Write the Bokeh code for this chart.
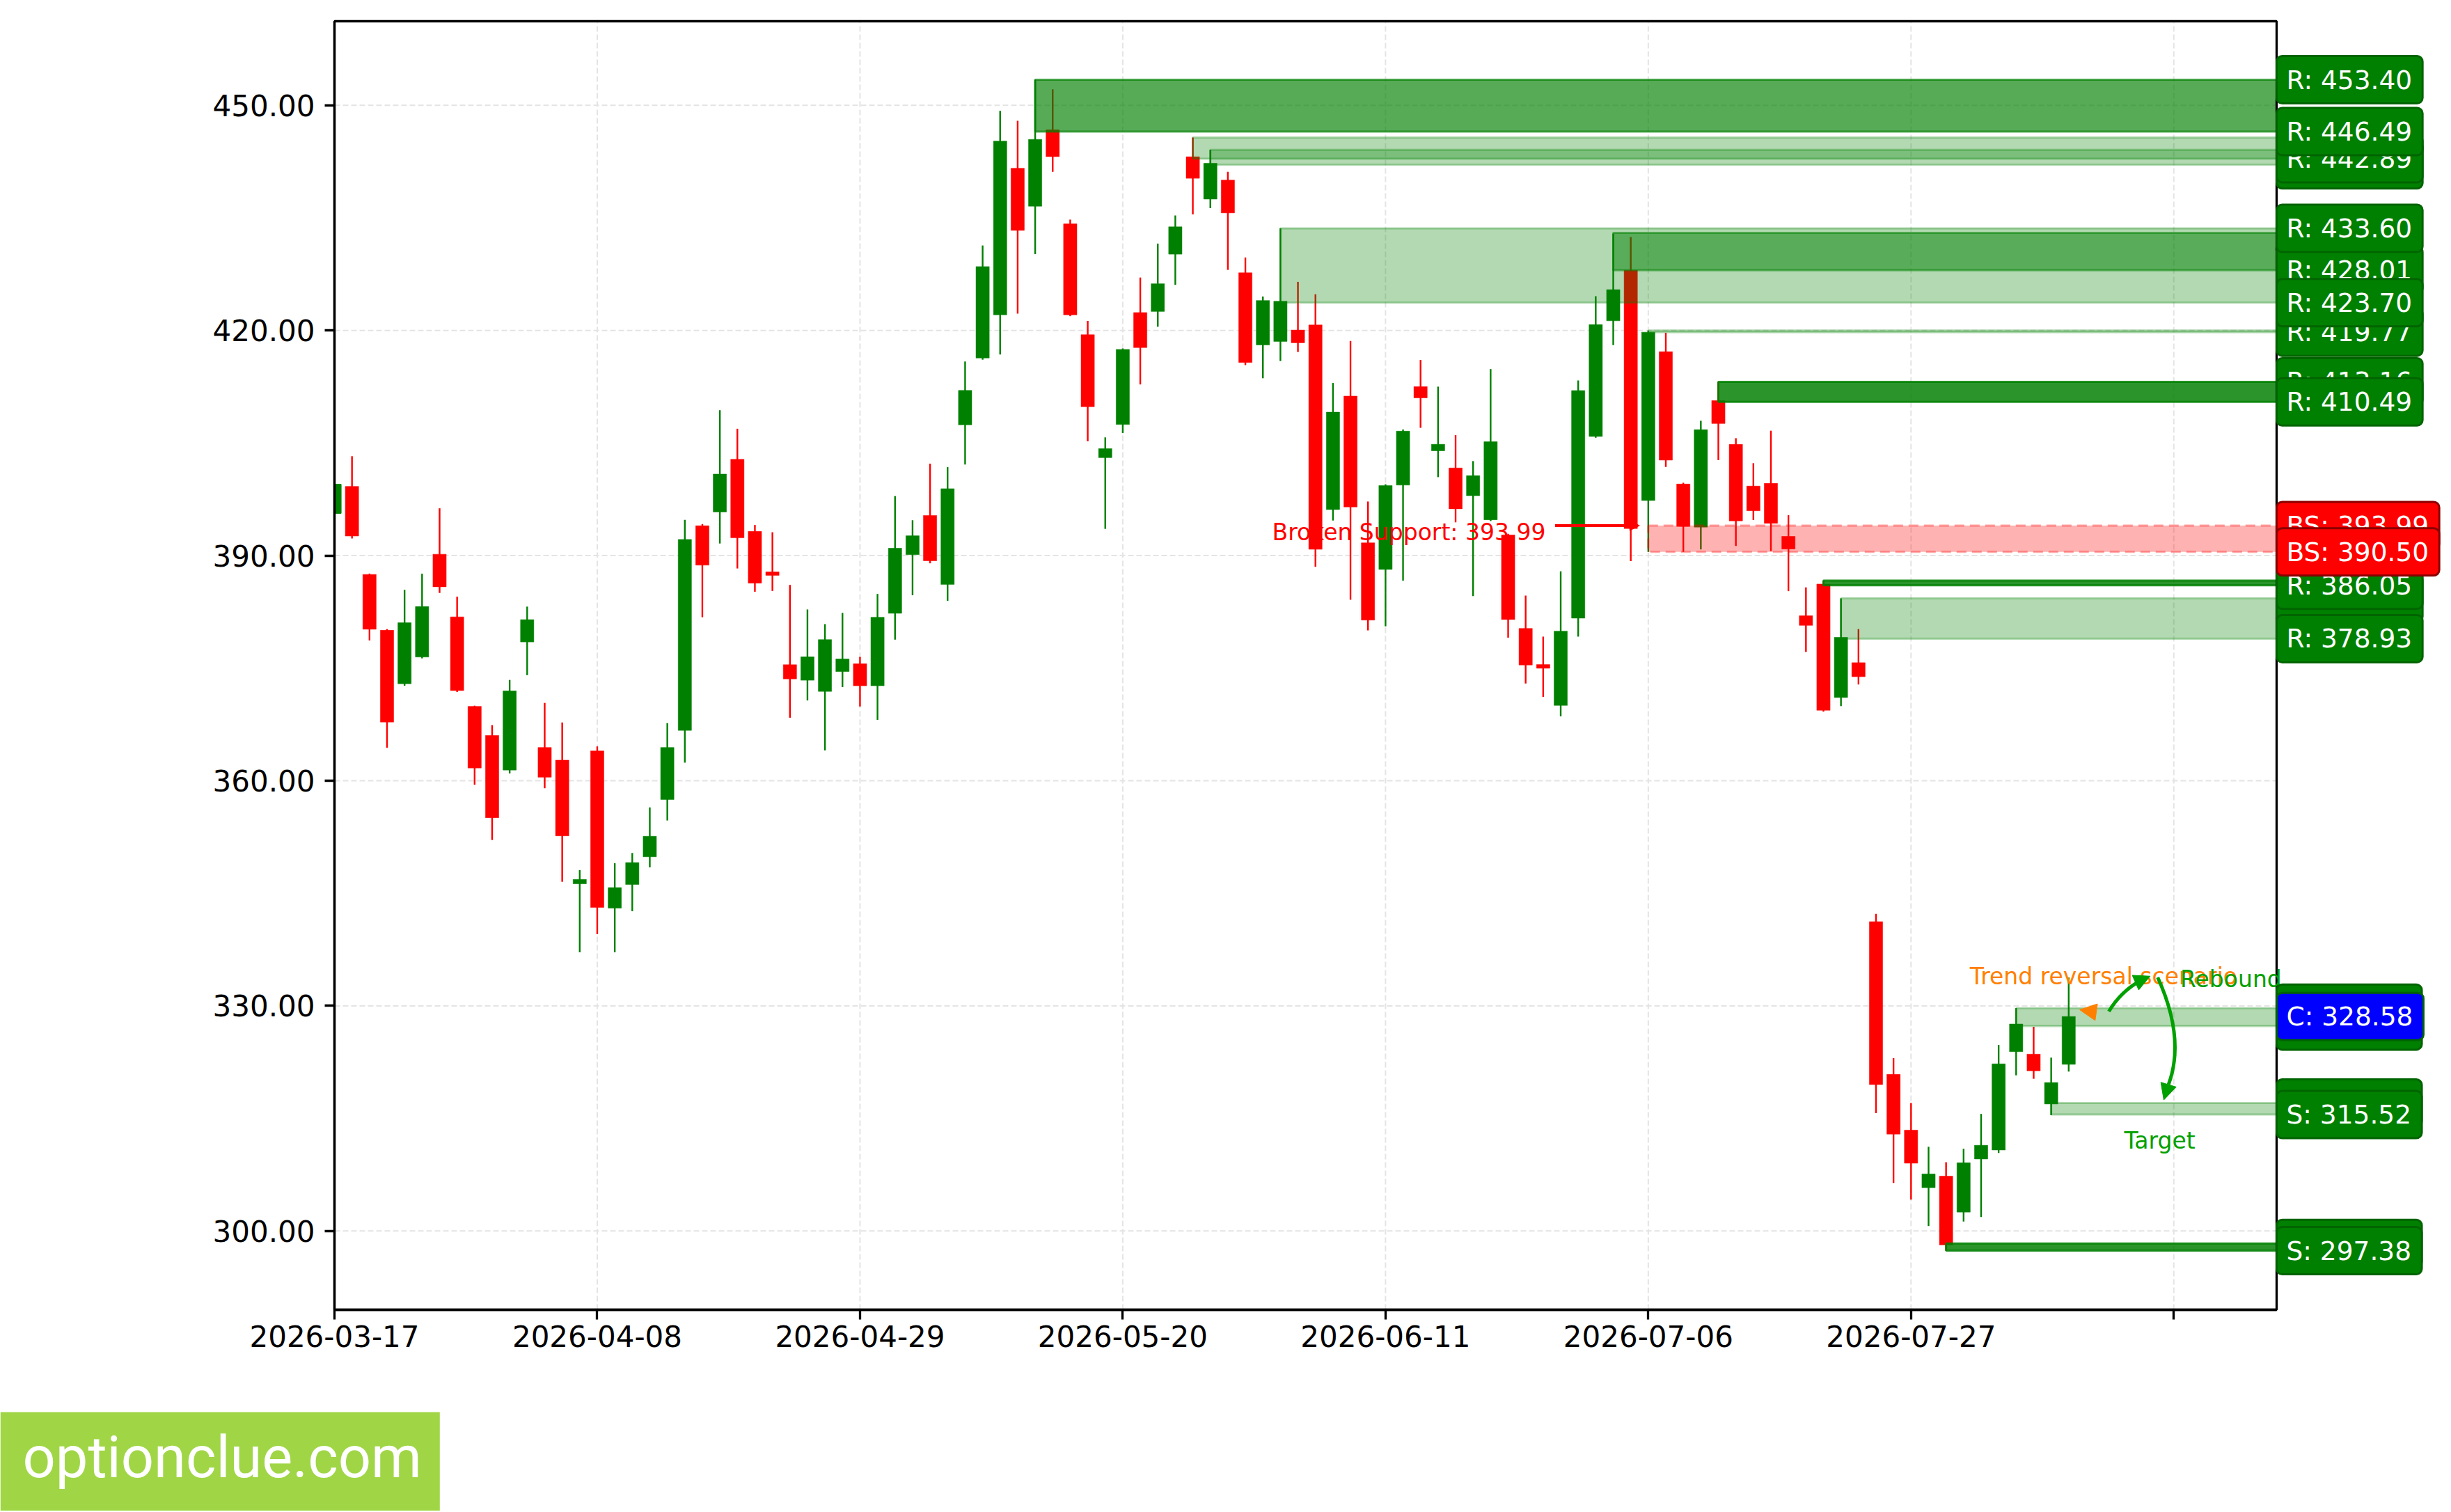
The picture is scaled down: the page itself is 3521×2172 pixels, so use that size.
from bokeh.plotting import figure
from bokeh.models import (Range1d, FixedTicker, NumeralTickFormatter, Label, Arrow, NormalHead,
                          ColumnDataSource, LinearAxis)
from bokeh.core.properties import value
from bokeh.embed import file_html
from bokeh.resources import INLINE

# ---------------- data ----------------
OPEN = [395.62, 399.22, 387.49, 380.05, 372.92, 376.48, 390.18, 381.83, 369.91, 366.03,
        361.42, 378.49, 364.43, 362.74, 346.26, 363.97, 343.02, 346.17, 349.86, 357.49,
        366.71, 393.97, 395.81, 402.82, 393.22, 387.82, 375.46, 373.39, 371.90, 374.54,
        375.58, 372.65, 382.30, 390.12, 395.35, 386.15, 407.42, 416.32, 422.07, 441.61,
        436.55, 446.72, 434.20, 419.43, 403.05, 407.46, 422.38, 422.53, 430.16, 443.14,
        437.50, 440.03, 427.68, 418.06, 418.54, 420.05, 420.73, 396.13, 411.25, 391.70,
        388.15, 399.39, 412.51, 403.96, 401.67, 397.98, 394.77, 392.74, 380.29, 375.48,
        370.03, 381.66, 405.87, 421.28, 428.01, 397.34, 417.17, 399.53, 393.79, 410.65,
        404.82, 399.26, 399.62, 392.56, 381.98, 386.21, 371.08, 375.73, 341.22, 320.87,
        313.44, 305.77, 307.30, 302.52, 309.59, 310.79, 323.89, 323.56, 316.92, 322.20]
HIGH = [400.50, 403.24, 387.60, 380.20, 385.43, 387.58, 396.30, 384.52, 370.00, 367.40,
        373.43, 383.20, 370.37, 367.76, 348.08, 364.57, 349.00, 350.37, 356.44, 367.67,
        394.75, 394.20, 409.37, 406.90, 394.08, 393.11, 386.09, 382.82, 380.86, 382.36,
        376.50, 384.89, 397.93, 394.71, 402.24, 401.78, 415.86, 431.32, 449.25, 447.93,
        453.40, 452.13, 434.77, 421.27, 405.75, 417.60, 427.05, 431.57, 435.32, 445.72,
        444.07, 441.15, 429.72, 424.52, 433.60, 426.47, 424.81, 413.00, 418.59, 397.20,
        399.50, 406.80, 416.06, 412.51, 406.05, 402.59, 414.85, 392.90, 384.67, 379.20,
        387.90, 413.34, 424.56, 432.90, 432.45, 420.00, 419.68, 399.70, 407.96, 413.16,
        405.64, 402.31, 406.64, 395.38, 385.76, 386.67, 384.30, 380.20, 342.25, 323.03,
        317.06, 311.22, 309.16, 310.95, 315.60, 324.79, 329.70, 327.21, 323.10, 333.78]
LOW = [395.20, 392.28, 378.68, 364.38, 372.65, 376.30, 385.02, 371.83, 359.45, 352.10,
       360.96, 374.06, 359.00, 346.53, 337.13, 339.55, 337.13, 342.61, 348.45, 354.70,
       362.42, 381.78, 391.61, 388.28, 385.17, 385.29, 368.39, 370.69, 364.03, 372.47,
       369.89, 368.11, 378.80, 384.71, 388.97, 383.97, 402.13, 416.10, 416.78, 422.24,
       430.17, 441.15, 421.90, 405.23, 393.56, 406.34, 412.80, 420.49, 426.08, 435.46,
       436.29, 428.07, 415.38, 413.63, 415.92, 417.13, 388.49, 394.67, 384.12, 380.03,
       380.57, 386.65, 407.02, 400.45, 394.43, 384.60, 394.60, 379.06, 372.95, 371.17,
       368.57, 379.20, 405.70, 418.04, 389.27, 390.50, 401.81, 390.50, 390.82, 402.72,
       391.28, 394.74, 390.59, 385.26, 377.15, 369.20, 369.94, 372.82, 315.70, 306.40,
       304.18, 300.66, 297.38, 301.26, 301.86, 310.39, 320.74, 320.28, 315.43, 321.24]
CLOSE = [399.50, 392.60, 380.18, 367.81, 381.05, 383.20, 385.84, 372.01, 361.69, 355.07,
         371.96, 381.46, 360.46, 352.65, 346.85, 343.11, 345.76, 349.09, 352.60, 364.43,
         392.15, 388.72, 400.86, 392.36, 386.32, 387.36, 373.56, 376.50, 378.80, 376.21,
         372.65, 381.78, 390.98, 392.64, 389.31, 398.91, 412.01, 428.51, 445.23, 433.33,
         445.46, 443.16, 422.07, 409.83, 404.25, 417.47, 417.71, 426.22, 433.81, 440.27,
         442.27, 435.66, 415.72, 423.99, 423.89, 418.35, 390.83, 409.11, 396.47, 381.40,
         399.34, 406.58, 411.01, 404.83, 396.23, 400.65, 405.17, 381.48, 375.41, 374.98,
         379.93, 411.98, 420.78, 425.43, 393.60, 419.77, 402.72, 393.88, 406.78, 407.60,
         394.61, 395.97, 394.29, 390.87, 380.70, 369.38, 379.11, 373.86, 319.51, 312.91,
         309.03, 307.60, 298.14, 309.09, 311.42, 322.27, 327.58, 321.34, 319.78, 328.58]

TICK_IDX = [0, 15, 30, 45, 60, 75, 90, 105]
TICK_LABELS = ["2026-03-17", "2026-04-08", "2026-04-29", "2026-05-20",
               "2026-06-11", "2026-07-06", "2026-07-27", ""]
Y_TICKS = [300, 330, 360, 390, 420, 450]

# resistance / support zones: start candle, low, high, opacity
ZONE_START = [40, 49, 50, 54, 73, 75, 79, 85, 86, 92, 96, 98]
ZONE_LOW = [446.49, 442.89, 442.07, 423.70, 428.01, 419.77, 410.49, 386.05, 378.93, 297.38, 327.31, 315.52]
ZONE_HIGH = [453.40, 445.72, 444.07, 433.60, 433.00, 420.00, 413.16, 386.67, 384.30, 298.33, 329.70, 317.05]
ZONE_ALPHA = [0.66, 0.30, 0.30, 0.30, 0.50, 0.30, 0.83, 0.83, 0.30, 0.83, 0.30, 0.30]

BS_START = [75]
BS_LOW = [390.50]
BS_HIGH = [393.99]

# right-hand level tags (in drawing order)
LEVEL_VALUES = [453.40, 442.07, 442.89, 446.49, 419.77, 428.01, 423.70, 433.60, 413.16, 410.49,
                384.30, 386.05, 378.93, 393.99, 390.50,
                298.33, 297.38, 317.05, 315.52, 329.70, 327.31, 328.58]
LEVEL_TEXTS = ["R: 453.40", "R: 442.07", "R: 442.89", "R: 446.49", "R: 419.77", "R: 428.01",
               "R: 423.70", "R: 433.60", "R: 413.16", "R: 410.49", "R: 384.30", "R: 386.05",
               "R: 378.93", "BS: 393.99", "BS: 390.50",
               "S: 298.33", "S: 297.38", "S: 317.05", "S: 315.52", "S: 329.70", "S: 327.31",
               "C: 328.58"]
LEVEL_KIND = ["R"] * 13 + ["BS", "BS"] + ["S"] * 6 + ["C"]

BROKEN_TEXT = "Broken Support: 393.99"
BROKEN_LEVEL = 393.99

# ---------------- geometry ----------------
W, H = 3520, 2170
X0, X1 = 0.0, 110.87          # visible candle-index window of the price panel
Y0, Y1 = 289.5, 461.2         # visible price window of the price panel
BOX_L, BOX_R, BOX_T, BOX_B = 480, 3270, 30, 1881   # panel box on the canvas (px)
XS = (BOX_R - BOX_L) / (X1 - X0)
YS = (BOX_B - BOX_T) / (Y1 - Y0)
x_range = Range1d(X0 - BOX_L / XS, X1 + (W - BOX_R) / XS)
y_range = Range1d(Y0 - (H - BOX_B) / YS, Y1 + BOX_T / YS)

p = figure(width=W, height=H, output_backend="svg", toolbar_location=None,
           x_range=x_range, y_range=y_range, x_axis_location=None, y_axis_location=None,
           min_border_left=0, min_border_right=0, min_border_top=0, min_border_bottom=0)
p.background_fill_color = "white"
p.border_fill_color = "white"
p.outline_line_color = None
p.grid.visible = False

# grid lines (dashed, light) inside the panel only
GRID = dict(line_color="#e4e4e4", line_width=2, line_dash="8 4")
p.segment(x0=TICK_IDX, y0=[Y0] * len(TICK_IDX), x1=TICK_IDX, y1=[Y1] * len(TICK_IDX), **GRID)
p.segment(x0=[X0] * len(Y_TICKS), y0=Y_TICKS, x1=[X1] * len(Y_TICKS), y1=Y_TICKS, **GRID)

# candles
UP, DOWN = "#008000", "#ff0000"
idx = list(range(len(OPEN)))
cols = [UP if c >= o else DOWN for o, c in zip(OPEN, CLOSE)]
tops = [max(o, c) for o, c in zip(OPEN, CLOSE)]
bots = [min(o, c) for o, c in zip(OPEN, CLOSE)]
vis = idx[1:]
src_rest = ColumnDataSource(dict(x=vis, top=[tops[i] for i in vis], bot=[bots[i] for i in vis],
                                 color=[cols[i] for i in vis],
                                 l=[LOW[i] for i in vis], h=[HIGH[i] for i in vis]))
p.segment(x0="x", y0="l", x1="x", y1="h", color="color", line_width=2.4, source=src_rest)
p.vbar(x="x", width=0.76, top="top", bottom="bot", fill_color="color", line_color="color",
       line_width=0.5, source=src_rest)
# first candle is cut in half by the panel's left edge
p.quad(left=[X0], right=[X0 + 0.38], top=[tops[0]], bottom=[bots[0]],
       fill_color=cols[0], line_color=cols[0])

# zones
zsrc = ColumnDataSource(dict(left=ZONE_START, right=[X1] * len(ZONE_START),
                             bottom=ZONE_LOW, top=ZONE_HIGH, a=ZONE_ALPHA))
p.quad(left="left", right="right", bottom="bottom", top="top", source=zsrc,
       fill_color="#008000", fill_alpha="a", line_color="#008000", line_alpha="a", line_width=3)
p.quad(left=BS_START, right=[X1], bottom=BS_LOW, top=BS_HIGH,
       fill_color="#ff0000", fill_alpha=0.3, line_color="#ff0000", line_alpha=0.35,
       line_width=3, line_dash="14 8")

# ---------------- axes placed on the panel edges ----------------
yax = LinearAxis(fixed_location=X0, bounds=(Y0, Y1), ticker=FixedTicker(ticks=Y_TICKS),
                 formatter=NumeralTickFormatter(format="0.00"))
xax = LinearAxis(fixed_location=Y0, bounds=(X0, X1), ticker=FixedTicker(ticks=TICK_IDX),
                 major_label_overrides={t: s for t, s in zip(TICK_IDX, TICK_LABELS)})
for ax in (xax, yax):
    ax.axis_line_color = "black"
    ax.axis_line_width = 3.3
    ax.major_tick_out = 14
    ax.major_tick_in = 0
    ax.major_tick_line_width = 3.3
    ax.minor_tick_line_color = None
    ax.major_label_text_font = "DejaVu Sans"
    ax.major_label_text_font_size = "42px"
    ax.major_label_text_color = "black"
xax.major_label_standoff = 8
yax.major_label_standoff = 14
p.add_layout(yax, "left")
p.add_layout(xax, "below")

# panel frame
p.quad(left=[X0], right=[X1], bottom=[Y0], top=[Y1], fill_color=None,
       line_color="black", line_width=3.3)

# ---------------- annotations inside the plot ----------------
FONT = value("DejaVu Sans")
p.text(x=[53.53], y=[393.14], text=[BROKEN_TEXT], text_font=FONT, text_font_size="33px",
       text_color="#ff0000", text_align="left", text_baseline="alphabetic")
p.add_layout(Arrow(end=NormalHead(size=14, fill_color="#ff0000", line_color="#ff0000"),
                   x_start=69.68, y_start=BROKEN_LEVEL, x_end=74.5, y_end=BROKEN_LEVEL,
                   line_color="#ff0000", line_width=4))

ORANGE = "#ff8000"
GREEN2 = "#00a000"
p.text(x=[93.36], y=[333.95], text=["Trend reversal scenario"], text_font=FONT,
       text_font_size="33px", text_color=ORANGE, text_align="left", text_baseline="alphabetic")
p.text(x=[105.37], y=[333.52], text=["Rebound"], text_font=FONT,
       text_font_size="33px", text_color=GREEN2, text_align="left", text_baseline="alphabetic")
p.text(x=[102.17], y=[312.06], text=["Target"], text_font=FONT,
       text_font_size="33px", text_color=GREEN2, text_align="left", text_baseline="alphabetic")

p.add_layout(Arrow(end=NormalHead(size=24, fill_color=ORANGE, line_color=ORANGE),
                   x_start=100.48, y_start=329.19, x_end=99.63, y_end=329.47,
                   line_alpha=0, line_width=1))
p.quadratic(x0=[101.29], y0=[329.24], x1=[103.24], y1=[333.53], cx=[102.02], cy=[332.08],
            line_color=GREEN2, line_width=5)
p.add_layout(Arrow(end=NormalHead(size=23, fill_color=GREEN2, line_color=GREEN2),
                   x_start=103.24, y_start=333.53, x_end=103.65, y_end=333.95,
                   line_alpha=0, line_width=1))
p.quadratic(x0=[104.08], y0=[333.79], x1=[104.70], y1=[319.52], cx=[105.67], cy=[325.65],
            line_color=GREEN2, line_width=5)
p.add_layout(Arrow(end=NormalHead(size=23, fill_color=GREEN2, line_color=GREEN2),
                   x_start=104.70, y_start=319.52, x_end=104.43, y_end=317.46,
                   line_alpha=0, line_width=1))

# ---------------- level tags on the right ----------------
STYLE = {"R": ("#008000", "#006400"), "S": ("#008000", "#006400"),
         "BS": ("#ff0000", "#8b0000"), "C": ("#0000ff", "#006400")}
for v, t, k in zip(LEVEL_VALUES, LEVEL_TEXTS, LEVEL_KIND):
    fill, edge = STYLE[k]
    p.add_layout(Label(x=X1, y=v, x_offset=0, text=t, text_font="DejaVu Sans",
                       text_font_size="37.5px", text_color="white",
                       text_align="left", text_baseline="middle",
                       background_fill_color=fill, border_line_color=edge,
                       border_line_width=3, padding=(14, 15, 12, 12), border_radius=8))

# ---------------- watermark ----------------
p.add_layout(Label(x=0, y=67.5, x_units="screen", y_units="screen", text="optionclue.com",
                   text_font="Roboto", text_font_size="83px", text_color="white",
                   text_align="left", text_baseline="middle",
                   background_fill_color="#a0d646", padding=(32, 26, 16, 36)))

open("out.html", "w").write(file_html(p, INLINE))
